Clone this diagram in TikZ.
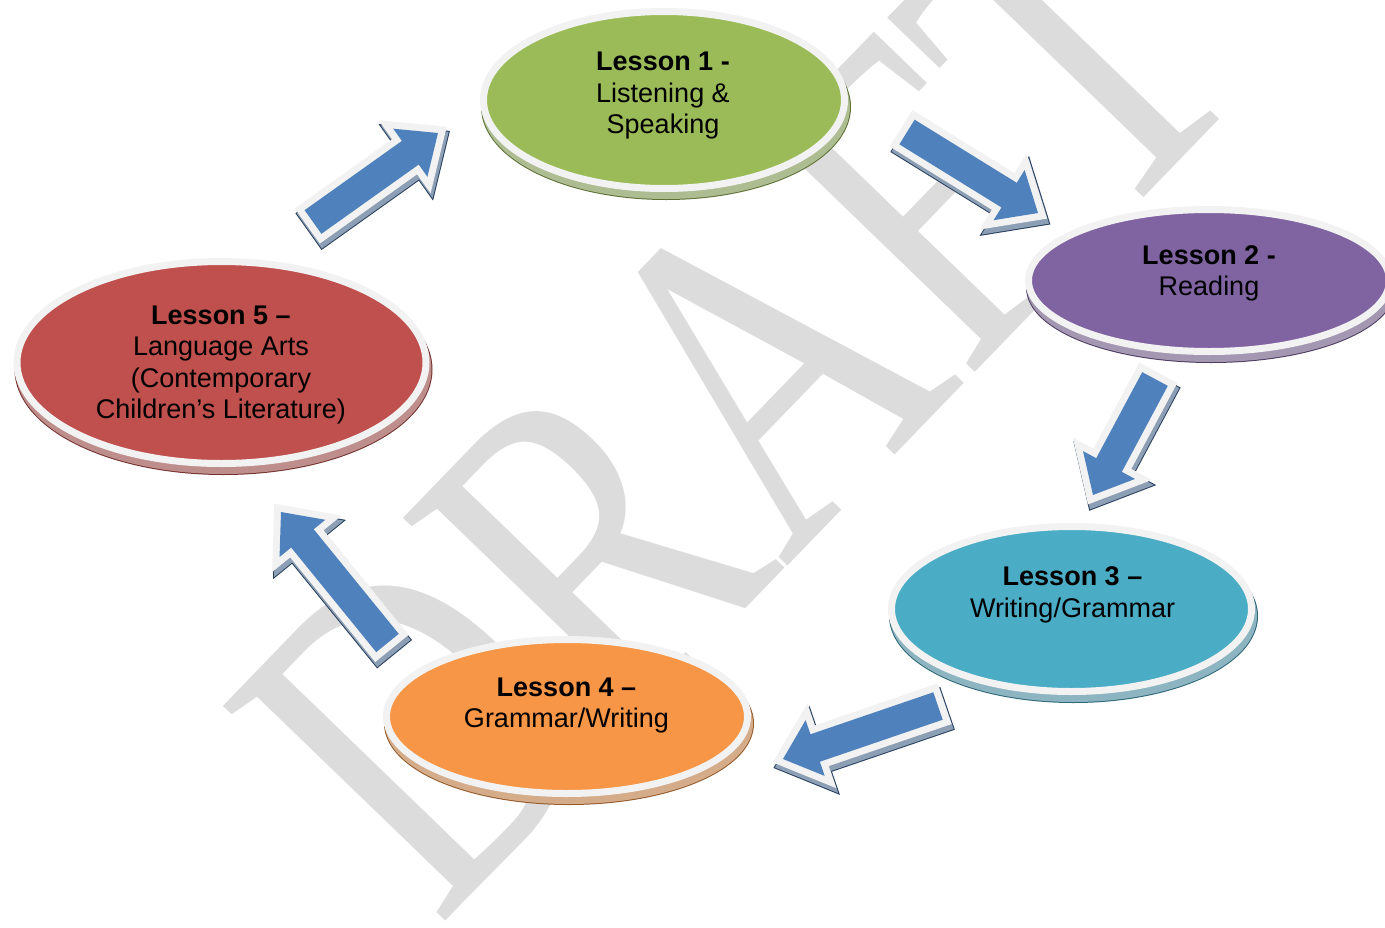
\documentclass[tikz,border=0pt]{standalone}
\usepackage{fontspec}
\setmainfont{Liberation Sans}
\newfontfamily\wmfont{Liberation Serif}
\usetikzlibrary{calc,shapes.geometric}
\definecolor{cgreen}{HTML}{9BBB59}
\definecolor{cpurple}{HTML}{8064A2}
\definecolor{cteal}{HTML}{4BACC6}
\definecolor{corange}{HTML}{F79646}
\definecolor{cred}{HTML}{C0504D}
\definecolor{cblue}{HTML}{4F81BD}
\definecolor{rim}{HTML}{F2F2F2}
\definecolor{wmgray}{HTML}{DCDCDC}
\tikzset{
  lesson/.style={ellipse, inner sep=0pt, outer sep=0pt, line width=7pt, draw=rim, fill=#1,
    preaction={transform canvas={shift={(2pt,-7pt)}}, draw=#1!60!black, line width=9pt, fill=#1!60!black},
    preaction={transform canvas={shift={(2pt,-7pt)}}, draw=#1!50!white!85!black, line width=7pt, fill=#1!50!white!85!black}},
  ltext/.style={anchor=base, inner sep=0pt, outer sep=0pt, font=\fontsize{27}{31.3}\selectfont},
  barrow/.style={fill=cblue, line join=miter,
    preaction={transform canvas={shift={(2pt,-5pt)}}, draw=cblue!50!black, fill=cblue!50!black, line width=16pt, line join=miter},
    preaction={transform canvas={shift={(2pt,-5pt)}}, draw=cblue!45!white!80!black, fill=cblue!45!white!80!black, line width=14pt, line join=miter},
    preaction={draw=rim, line width=14pt, line join=miter}},
  wm/.style={anchor=base west, inner sep=0pt, outer sep=0pt, rotate=46, xscale=0.763,
    text=wmgray, font=\wmfont\fontsize{472}{472}\selectfont}
}
\newcommand\blockarrow[2]{%
  \coordinate (#1-b) at ($(#2)!34pt!(#1)$);
  \path[barrow] ($(#1)!14.5pt!90:(#2)$) -- ($(#1-b)!14.5pt!90:(#2)$)
    -- ($(#1-b)!29.5pt!90:(#2)$) -- (#2) -- ($(#1-b)!29.5pt!-90:(#2)$)
    -- ($(#1-b)!14.5pt!-90:(#2)$) -- ($(#1)!14.5pt!-90:(#2)$) -- cycle;
}
\begin{document}
\begin{tikzpicture}[x=1pt,y=-1pt]
\useasboundingbox (0,0) rectangle (1385,927);
\fill[white] (0,0) rectangle (1385,927);
\clip (0,0) rectangle (1385,927);
% watermark
\node[wm] (wmark) at (438,928) {DRAFT};
% lessons
\node[lesson=cgreen, minimum width=361pt, minimum height=177pt] (l1) at (664,100) {};
\node[lesson=cpurple, minimum width=361pt, minimum height=142pt] (l2) at (1209,280.5) {};
\node[lesson=cteal, minimum width=360pt, minimum height=165pt] (l3) at (1071.5,609) {};
\node[lesson=corange, minimum width=361pt, minimum height=154pt] (l4) at (567,716.5) {};
\node[lesson=cred, minimum width=409pt, minimum height=202pt] (l5) at (221.5,362.5) {};
% texts
\node[ltext] (t1) at (663,70.7) {\begin{tabular}[t]{@{}c@{}}\textbf{Lesson 1 -}\\Listening \&\\Speaking\end{tabular}};
\node[ltext] (t2) at (1209,264.3) {\begin{tabular}[t]{@{}c@{}}\textbf{Lesson 2 -}\\Reading\end{tabular}};
\node[ltext] (t3) at (1072.5,585.7) {\begin{tabular}[t]{@{}c@{}}\textbf{Lesson 3 –}\\Writing/Grammar\end{tabular}};
\node[ltext] (t4) at (566.5,696) {\begin{tabular}[t]{@{}c@{}}\textbf{Lesson 4 –}\\Grammar/Writing\end{tabular}};
\node[ltext] (t5) at (221,324.5) {\begin{tabular}[t]{@{}c@{}}\textbf{Lesson 5 –}\\Language Arts\\(Contemporary\\Children’s Literature)\end{tabular}};
% arrows
\coordinate (a1) at (313,222); \coordinate (h1) at (438,133);
\coordinate (a2) at (907,132); \coordinate (h2) at (1038,213);
\coordinate (a3) at (1155,379); \coordinate (h3) at (1093,495);
\coordinate (a4) at (938,706); \coordinate (h4) at (783,759);
\coordinate (a5) at (387.5,643); \coordinate (h5) at (281,512);
\blockarrow{a1}{h1}
\blockarrow{a2}{h2}
\blockarrow{a3}{h3}
\blockarrow{a4}{h4}
\blockarrow{a5}{h5}
\end{tikzpicture}
\end{document}
